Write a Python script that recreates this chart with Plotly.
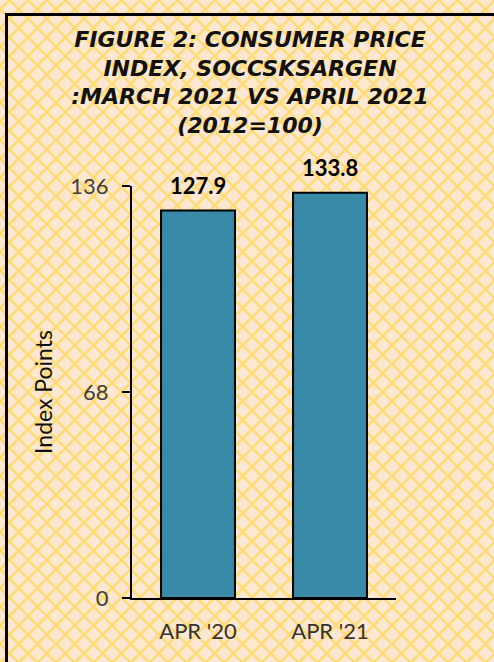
import base64
import plotly.graph_objects as go

# ---- data ----
categories = ["APR '20", "APR '21"]
values = [127.9, 133.8]
y_ticks = [0, 68, 136]
title_lines = [
    "FIGURE 2: CONSUMER PRICE",
    "INDEX, SOCCSKSARGEN",
    ":MARCH 2021 VS APRIL 2021",
    "(2012=100)",
]
y_title = "Index Points"

W, H = 494, 662

# ---- background pattern (cream with yellow diagonal cross-hatch) ----
s = 13.2
svg = (
    f'<svg xmlns="http://www.w3.org/2000/svg" width="{W}" height="{H}" viewBox="0 0 {W} {H}">'
    f'<defs><pattern id="p" width="{s}" height="{s}" patternUnits="userSpaceOnUse" '
    f'patternTransform="rotate(45)">'
    f'<rect width="{s}" height="{s}" fill="#FCE7D3"/>'
    f'<path d="M0 {s/2} H{s} M{s/2} 0 V{s}" stroke="#FFDB6E" stroke-width="2.5"/>'
    f'</pattern></defs><rect width="{W}" height="{H}" fill="url(#p)"/></svg>'
)
bg_src = "data:image/svg+xml;base64," + base64.b64encode(svg.encode()).decode()

fig = go.Figure()
fig.add_trace(go.Bar(
    x=categories, y=values,
    marker=dict(color="#398AA6", line=dict(color="#000000", width=2)),
    width=0.56,
    hoverinfo="x+y",
))

for c, v in zip(categories, values):
    fig.add_annotation(
        x=c, y=v, xref="x", yref="y", text=f"<b>{v}</b>", showarrow=False,
        yanchor="bottom", yshift=10,
        font=dict(family="Lato", size=22, color="#000000"),
    )

fig.update_layout(
    width=W, height=H,
    margin=dict(l=0, r=0, t=0, b=0, pad=0),
    paper_bgcolor="#FCE7D3",
    plot_bgcolor="rgba(0,0,0,0)",
    showlegend=False,
    title=dict(
        text="<br>".join(title_lines),
        x=250 / W, xanchor="center", xref="paper",
        y=1 - 47 / H, yanchor="top", yref="container",
        font=dict(family="DejaVu Sans", size=22, color="#111111",
                  weight="bold", style="italic"),
    ),
    images=[dict(
        source=bg_src, xref="paper", yref="paper", x=0, y=1,
        sizex=1, sizey=1, xanchor="left", yanchor="top",
        sizing="stretch", layer="below",
    )],
    shapes=[dict(
        type="rect", xref="paper", yref="paper",
        x0=6.5 / W, x1=1.05, y0=-0.05, y1=1 - 14.5 / H,
        line=dict(color="#000000", width=3), fillcolor="rgba(0,0,0,0)",
        layer="above",
    )],
    xaxis=dict(
        domain=[132 / W, 396 / W],
        showline=True, linecolor="#000000", linewidth=2,
        ticks="", showgrid=False, zeroline=False,
        tickfont=dict(family="Lato", size=22, color="#333333"),
        ticklabelstandoff=13,
        automargin=False,
    ),
    yaxis=dict(
        domain=[1 - 598 / H, 1 - 186 / H],
        range=[0, 136], tickvals=y_ticks,
        showline=True, linecolor="#000000", linewidth=2,
        ticks="outside", ticklen=8, tickwidth=2, tickcolor="#000000",
        showgrid=False, zeroline=False,
        tickfont=dict(family="Lato", size=22, color="#404040"),
        ticklabelstandoff=9,
        title=dict(text=y_title, font=dict(family="Lato", size=23, color="#111111"),
                   standoff=11),
        automargin=False,
    ),
)

fig.write_html(
    "out.html",
    config={"displayModeBar": False},
    post_script="document.body.style.margin='0';document.body.style.overflow='hidden';",
)
